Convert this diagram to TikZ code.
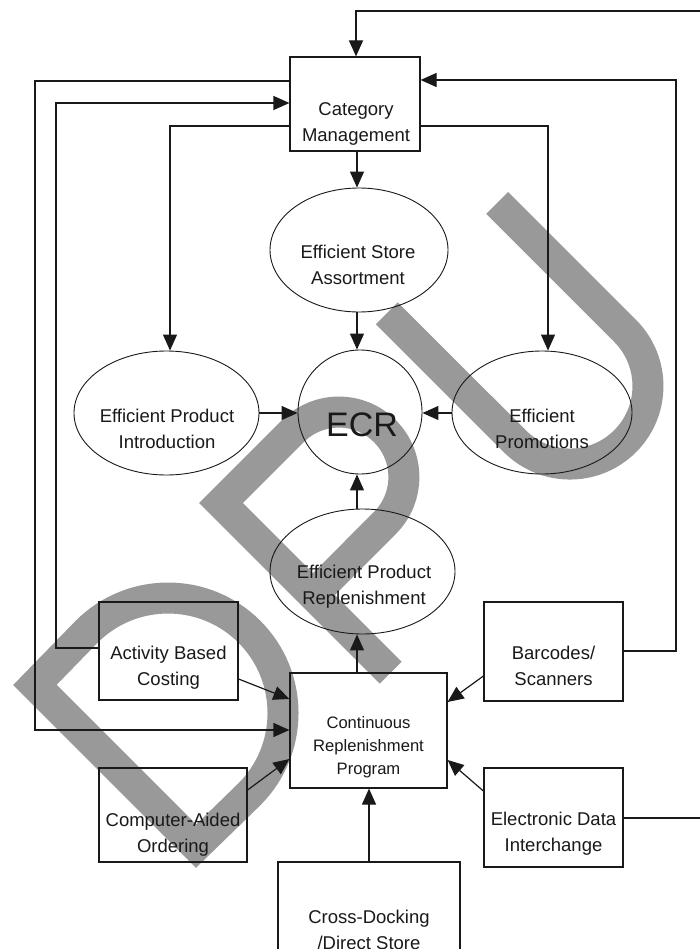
\documentclass[tikz,border=0pt]{standalone}
\usepackage{fontspec}
\setmainfont{Liberation Sans}
\usetikzlibrary{arrows.meta,shapes.geometric}
\definecolor{ink}{RGB}{25,25,25}
\definecolor{wmgray}{RGB}{153,153,153}
\begin{document}
\begin{tikzpicture}[x=1pt,y=-1pt,
  wm/.style={draw=wmgray, line width=31pt, line join=miter, line cap=butt},
  conn/.style={draw=ink, line width=1.2pt, -{Triangle[length=16pt,width=14pt]}},
  boxshape/.style={draw=ink, line width=1.2pt, rectangle, inner sep=0pt},
  oval/.style={draw=ink, line width=0.9pt, ellipse, inner sep=0pt},
  lbl/.style={align=center, inner sep=0pt, text=ink, font=\fontsize{18.5}{26}\selectfont},
  smalllbl/.style={align=center, inner sep=0pt, text=ink, font=\fontsize{16.6}{23}\selectfont}]

\useasboundingbox (0,0) rectangle (700,949);
\fill[white] (0,0) rectangle (700,949);

% watermark letters D, P, U
\draw[wm] (34.9,684.9) -- (86.7,631.7) arc[start angle=135, end angle=-45, radius=115pt]
  -- (196.1,846.1) -- cycle;
\draw[wm] (390.7,672.7) -- (221,503) -- (292.9,431.1)
  arc[start angle=135, end angle=-45, radius=65pt] -- (313,595);
\draw[wm] (386.8,313.3) -- (514.8,441.2)
  arc[start angle=-135, end angle=45, radius=78pt] -- (497.1,202.9);

% shapes
\node[boxshape, minimum width=130pt, minimum height=94pt] (cat) at (355,104) {};
\node[oval, minimum width=178pt, minimum height=124pt] (esa) at (359,250) {};
\node[oval, minimum width=185pt, minimum height=124pt] (epi) at (166.5,413) {};
\node[oval, minimum width=124pt, minimum height=124pt] (ecr) at (360,412) {};
\node[oval, minimum width=180pt, minimum height=123pt] (ep) at (542,412.5) {};
\node[oval, minimum width=185pt, minimum height=125pt] (epr) at (362.5,571.5) {};
\node[boxshape, minimum width=139pt, minimum height=98pt] (abc) at (168.5,651) {};
\node[boxshape, minimum width=139pt, minimum height=99pt] (bar) at (553.5,651.5) {};
\node[boxshape, minimum width=157pt, minimum height=115pt] (crp) at (368.5,730.5) {};
\node[boxshape, minimum width=148pt, minimum height=94pt] (cao) at (173,815) {};
\node[boxshape, minimum width=139pt, minimum height=99pt] (edi) at (553.5,817.5) {};
\node[boxshape, minimum width=182pt, minimum height=98pt] (cdk) at (369,911) {};

% texts
\node[lbl] (catT) at (356,124.1) {Category\\Management};
\node[lbl] (esaT) at (358,265.3) {Efficient Store\\Assortment};
\node[lbl] (epiT) at (167,429.3) {Efficient Product\\Introduction};
\node[anchor=base, inner sep=0pt, text=ink, font=\fontsize{34}{40}\selectfont] (ecrT) at (362,436) {ECR};
\node[lbl] (epT) at (542,429.3) {Efficient\\Promotions};
\node[lbl] (eprT) at (364,587.1) {Efficient Product\\Replenishment};
\node[lbl] (abcT) at (168.5,668.1) {Activity Based\\Costing};
\node[lbl] (barT) at (553.5,666.3) {Barcodes/\\Scanners};
\node[smalllbl] (crpT) at (368.5,747.6) {Continuous\\Replenishment\\Program};
\node[lbl] (caoT) at (173,835.1) {Computer-Aided\\Ordering};
\node[lbl] (ediT) at (553.5,834.1) {Electronic Data\\Interchange};
\node[lbl] (cdkT) at (369,930.3) {Cross-Docking\\/Direct Store};

% feedback loops around the outside
\draw[conn] (edi.east |- 0,818) -- (706,818) -- (706,11) -| (356,0 |- cat.north);
\draw[conn] (bar.east |- 0,651) -| (676,80) -- (cat.east |- 0,80);
\draw[conn] (cat.west |- 0,81) -| (35,730) -- (crp.west |- 0,730);
\draw[conn] (abc.west |- 0,648) -| (56,103) -- (cat.west |- 0,103);

% category management to the strategies
\draw[conn] (cat.west |- 0,126) -| (170,0 |- epi.north);
\draw[conn] (cat.east |- 0,126) -| (548,0 |- ep.north);
\draw[conn] (357,0 |- cat.south) -- (357,0 |- esa.north);

% strategies into ECR
\draw[conn] (357,0 |- esa.south) -- (357,0 |- ecr.north);
\draw[conn] (epi.east |- 0,413) -- (ecr.west |- 0,413);
\draw[conn] (ep.west |- 0,413) -- (ecr.east |- 0,413);
\draw[conn] (357,0 |- epr.north) -- (357,0 |- ecr.south);
\draw[conn] (357,0 |- crp.north) -- (357,0 |- epr.south);

% enablers into the replenishment program
\draw[conn] (abc.east |- 0,679) -- (crp.west |- 0,699);
\draw[conn] (cao.east |- 0,790) -- (crp.west |- 0,759);
\draw[conn] (bar.west |- 0,676) -- (crp.east |- 0,702);
\draw[conn] (edi.west |- 0,791) -- (crp.east |- 0,760);
\draw[conn] (369,0 |- cdk.north) -- (369,0 |- crp.south);
\end{tikzpicture}
\end{document}
